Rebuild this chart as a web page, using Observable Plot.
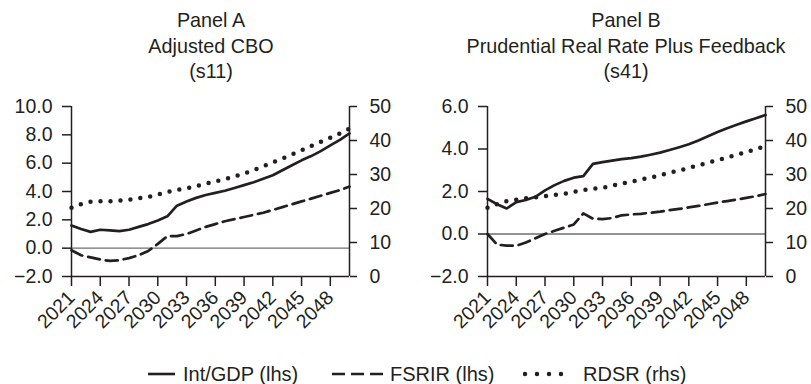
<!DOCTYPE html>
<html>
<head>
<meta charset="utf-8">
<script src="https://cdn.jsdelivr.net/npm/d3@7"></script>
<script src="https://cdn.jsdelivr.net/npm/@observablehq/plot@0.6"></script>
<style>
  body { margin: 0; background: #fff; }
  #wrap { position: relative; width: 811px; height: 384px; overflow: hidden; background: #fff;
          font-family: "Liberation Sans", Arial, sans-serif; color: #231f20; }
  .title { position: absolute; top: 8px; width: 420px; text-align: center; font-size: 19.8px;
           line-height: 25.5px; white-space: nowrap; }
  .panel { position: absolute; top: 90px; }
  .item { position: absolute; top: 362px; display: flex; align-items: center; font-size: 20px;
          white-space: nowrap; line-height: 24px; }
  .item svg { display: block; }
</style>
</head>
<body>
<div id="wrap">
  <div class="title" style="left:1px">Panel A<br>Adjusted CBO<br>(s11)</div>
  <div class="title" style="left:416px">Panel B<br>Prudential Real Rate Plus Feedback<br>(s41)</div>
  <div class="panel" id="panelA" style="left:0"></div>
  <div class="panel" id="panelB" style="left:405px"></div>
  <div class="item" style="left:148px">
    <svg width="35" height="10"><line x1="0" y1="5" x2="27" y2="5" stroke="#231f20" stroke-width="2.6"/></svg>
    <span>Int/GDP (lhs)</span>
  </div>
  <div class="item" style="left:332px">
    <svg width="58" height="10"><line x1="0" y1="5" x2="51" y2="5" stroke="#231f20" stroke-width="2.6" stroke-dasharray="13,6"/></svg>
    <span>FSRIR (lhs)</span>
  </div>
  <div class="item" style="left:523px">
    <svg width="60" height="10"><line x1="2" y1="5" x2="50" y2="5" stroke="#231f20" stroke-width="4.5" stroke-linecap="round" stroke-dasharray="0,12"/></svg>
    <span>RDSR (rhs)</span>
  </div>
</div>
<script>
// Years on the horizontal axis and the labelled ticks
const years = [2021, 2022, 2023, 2024, 2025, 2026, 2027, 2028, 2029, 2030,
               2031, 2032, 2033, 2034, 2035, 2036, 2037, 2038, 2039, 2040,
               2041, 2042, 2043, 2044, 2045, 2046, 2047, 2048, 2049, 2050];
const yearTicks = [2021, 2024, 2027, 2030, 2033, 2036, 2039, 2042, 2045, 2048];

// Panel A: Adjusted CBO (s11)
const intGdpA = [1.6, 1.35, 1.15, 1.3, 1.25, 1.2, 1.3, 1.5, 1.7, 1.95,
                 2.25, 3.0, 3.3, 3.55, 3.75, 3.9, 4.05, 4.25, 4.45, 4.65,
                 4.9, 5.15, 5.5, 5.85, 6.2, 6.5, 6.85, 7.25, 7.65, 8.1];
const fsrirA = [-0.15, -0.5, -0.65, -0.8, -0.9, -0.85, -0.7, -0.5, -0.2, 0.3,
                0.85, 0.85, 1.0, 1.25, 1.5, 1.7, 1.9, 2.05, 2.2, 2.35,
                2.5, 2.7, 2.9, 3.1, 3.3, 3.5, 3.7, 3.9, 4.1, 4.35];
const rdsrA = [20.2, 21.3, 22.0, 22.1, 22.1, 22.3, 22.6, 23.0, 23.4, 24.1,
               24.9, 25.5, 25.9, 26.6, 27.3, 28.0, 28.6, 29.4, 30.3, 31.3,
               32.4, 33.6, 34.7, 35.9, 37.1, 38.4, 39.6, 40.8, 42.1, 43.5];
const lhsTicksA = [-2, 0, 2, 4, 6, 8, 10];

// Panel B: Prudential Real Rate Plus Feedback (s41)
const intGdpB = [1.65, 1.4, 1.2, 1.5, 1.6, 1.75, 2.05, 2.3, 2.5, 2.65,
                 2.72, 3.3, 3.38, 3.45, 3.52, 3.57, 3.64, 3.73, 3.83, 3.95,
                 4.08, 4.22, 4.4, 4.6, 4.8, 4.98, 5.14, 5.3, 5.45, 5.6];
const fsrirB = [0.0, -0.5, -0.55, -0.55, -0.4, -0.2, 0.0, 0.15, 0.3, 0.45,
                0.97, 0.72, 0.7, 0.75, 0.88, 0.92, 0.95, 1.0, 1.05, 1.12,
                1.18, 1.25, 1.32, 1.4, 1.48, 1.55, 1.62, 1.7, 1.78, 1.88];
const rdsrB = [20.2, 21.3, 22.2, 22.6, 23.0, 23.3, 23.6, 24.0, 24.3, 24.9,
               25.4, 25.8, 26.1, 26.7, 27.3, 27.9, 28.5, 29.1, 29.8, 30.5,
               31.2, 31.9, 32.7, 33.5, 34.2, 35.0, 35.8, 36.6, 37.5, 38.3];
const lhsTicksB = [-2, 0, 2, 4, 6];

// Right-hand axis (shared by both panels)
const rhsTicks = [0, 10, 20, 30, 40, 50];

const ink = "#231f20";
const font = "'Liberation Sans', Arial, sans-serif";

function panel({intGdp, fsrir, rdsr, lhsTicks, width, marginLeft, marginRight}) {
  const yMin = lhsTicks[0], yMax = lhsTicks[lhsTicks.length - 1];
  const rMin = rhsTicks[0], rMax = rhsTicks[rhsTicks.length - 1];
  // RDSR is measured on the right axis; express it in left-axis units
  const toLeft = r => yMin + (r - rMin) * (yMax - yMin) / (rMax - rMin);
  const fromLeft = v => String(Math.round(rMin + (v - yMin) * (rMax - rMin) / (yMax - yMin)));
  const rows = years.map((year, i) => ({year, intGdp: intGdp[i], fsrir: fsrir[i], rdsr: toLeft(rdsr[i])}));
  return Plot.plot({
    width, height: 260,
    marginTop: 16, marginBottom: 74, marginLeft, marginRight,
    style: {fontFamily: font, fontSize: "19.5px", color: ink, background: "white", overflow: "visible"},
    x: {domain: [years[0], years[years.length - 1]]},
    y: {domain: [yMin, yMax]},
    marks: [
      Plot.ruleY([0], {stroke: "#6d6e71", strokeWidth: 1.3}),
      Plot.line(rows, {x: "year", y: "fsrir", stroke: ink, strokeWidth: 2.7, strokeDasharray: "12,6"}),
      Plot.line(rows, {x: "year", y: "rdsr", stroke: ink, strokeWidth: 4.5, strokeDasharray: "0,10", strokeLinecap: "round"}),
      Plot.line(rows, {x: "year", y: "intGdp", stroke: ink, strokeWidth: 2.7}),
      Plot.ruleX([years[0], years[years.length - 1]], {stroke: ink, strokeWidth: 1.5}),
      Plot.ruleY([yMin], {stroke: ink, strokeWidth: 1.5}),
      Plot.axisX(yearTicks, {tickFormat: d => String(d), tickRotate: -45, tickSize: 10, tickPadding: 8, label: null, strokeWidth: 1.5}),
      Plot.axisY(lhsTicks, {anchor: "left", tickFormat: d3.format(".1f"), tickSize: 9, tickPadding: 10, label: null, strokeWidth: 1.5}),
      Plot.axisY(rhsTicks.map(toLeft), {anchor: "right", tickFormat: fromLeft, tickSize: 7, tickPadding: 13, label: null, strokeWidth: 1.5})
    ]
  });
}

document.getElementById("panelA").append(panel({
  intGdp: intGdpA, fsrir: fsrirA, rdsr: rdsrA, lhsTicks: lhsTicksA,
  width: 405, marginLeft: 71, marginRight: 56
}));
document.getElementById("panelB").append(panel({
  intGdp: intGdpB, fsrir: fsrirB, rdsr: rdsrB, lhsTicks: lhsTicksB,
  width: 406, marginLeft: 82, marginRight: 46
}));
</script>
</body>
</html>
